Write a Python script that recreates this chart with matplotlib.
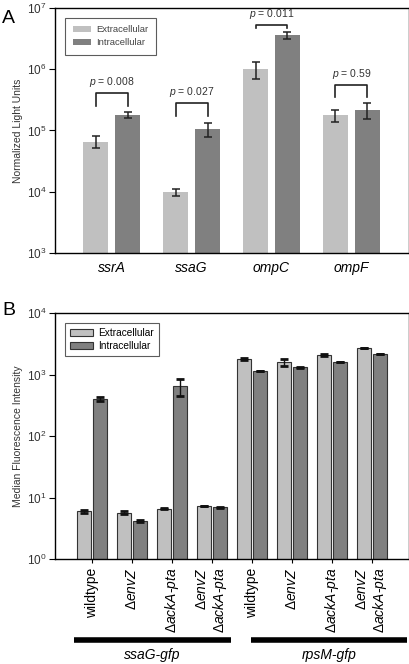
import numpy as np
import matplotlib
matplotlib.use("Agg")
import matplotlib.pyplot as plt
from matplotlib.ticker import NullLocator
import matplotlib.transforms as mtransforms

plt.rcParams['font.family'] = ['Liberation Sans', 'DejaVu Sans']
plt.rcParams['mathtext.fontset'] = 'custom'
plt.rcParams['mathtext.rm'] = 'Liberation Sans'
plt.rcParams['mathtext.it'] = 'Liberation Sans:italic'
plt.rcParams['mathtext.bf'] = 'Liberation Sans:bold'

# Panel A data
genes_a = ['ssrA', 'ssaG', 'ompC', 'ompF']
extra_a = [6.6e4, 9.8e3, 1.01e6, 1.8e5]
extra_a_err = [1.4e4, 1.2e3, 3.2e5, 4.0e4]
intra_a = [1.8e5, 1.05e5, 3.6e6, 2.2e5]
intra_a_err = [2.0e4, 2.7e4, 4.5e5, 6.5e4]
pvals = ['0.008', '0.027', '0.011', '0.59']

# Panel B data
strains_b = ['wildtype', r'$\Delta\mathit{envZ}$', r'$\Delta\mathit{ackA}$-$\mathit{pta}$',
             r'$\Delta\mathit{envZ}$' + '\n' + r'$\Delta\mathit{ackA}$-$\mathit{pta}$'] * 2
extra_b = [6.0, 5.7, 6.6, 7.3, 1770, 1580, 2075, 2670]
extra_b_err = [0.3, 0.4, 0.1, 0.1, 60, 190, 60, 20]
intra_b = [395, 4.15, 650, 6.9, 1140, 1310, 1595, 2150]
intra_b_err = [30, 0.1, 210, 0.1, 15, 15, 15, 15]
reporters = ['ssaG-gfp', 'rpsM-gfp']

# bracket geometry for p-values (log10 of bracket top, leg length in decades)
bracket_top = [5.61, 5.45, 6.73, 5.74]
bracket_leg = [0.21, 0.22, 0.05, 0.19]

c_ext = '#c0c0c0'
c_int = '#808080'

fig = plt.figure(figsize=(4.1, 6.64), dpi=100)

# ---------------- Panel A ----------------
ax = fig.add_axes([0.134, 0.619, 0.8634, 0.369])
x = np.arange(len(genes_a))
w = 0.32
off = 0.2
ax.bar(x - off, extra_a, w, color=c_ext, label='Extracellular')
ax.bar(x + off, intra_a, w, color=c_int, label='Intracellular')
ax.errorbar(x - off, extra_a, yerr=extra_a_err, fmt='none', ecolor='#222222',
            elinewidth=1.1, capsize=3, capthick=1.1)
ax.errorbar(x + off, intra_a, yerr=intra_a_err, fmt='none', ecolor='#222222',
            elinewidth=1.1, capsize=3, capthick=1.1)
ax.set_yscale('log')
ax.set_ylim(1e3, 1e7)
ax.set_xlim(-0.71, 3.72)
ax.yaxis.set_minor_locator(NullLocator())
ax.set_xticks(x)
ax.set_xticklabels(genes_a, fontsize=10, style='italic')
ax.tick_params(axis='x', length=0, pad=6)
ax.tick_params(axis='y', labelsize=8.5, labelcolor='#333333', length=4, width=0.8, pad=2)
ax.set_ylabel('Normalized Light Units', fontsize=7.5, color='#333333', labelpad=3)
for s in ax.spines.values():
    s.set_linewidth(1.0)

for i in range(len(genes_a)):
    top = 10 ** bracket_top[i]
    leg = 10 ** (bracket_top[i] - bracket_leg[i])
    ax.plot([i - off, i - off, i + off, i + off], [leg, top, top, leg],
            color='#222222', lw=1.2)
    ax.text(i, top * 10 ** 0.06, '$p$ = ' + pvals[i], ha='center', va='bottom',
            fontsize=7.5, color='#333333')

leg_a = ax.legend(loc='upper left', bbox_to_anchor=(0.015, 0.98), fontsize=6.8,
                  frameon=True, fancybox=False, edgecolor='#333333',
                  handlelength=2.0, handleheight=0.6, labelspacing=0.45,
                  borderpad=0.8, handletextpad=0.5)
leg_a.get_frame().set_linewidth(0.8)
for t in leg_a.get_texts():
    t.set_color('#444444')

fig.text(0.005, 0.985, 'A', fontsize=14, va='top', ha='left')

# ---------------- Panel B ----------------
bx = fig.add_axes([0.134, 0.1581, 0.8634, 0.3705])
xb = np.arange(len(strains_b))
wb = 0.33
bx.bar(xb - off, extra_b, wb, color=c_ext, edgecolor='#333333', linewidth=0.8,
       label='Extracellular')
bx.bar(xb + off, intra_b, wb, color=c_int, edgecolor='#333333', linewidth=0.8,
       label='Intracellular')
bx.errorbar(xb - off, extra_b, yerr=extra_b_err, fmt='none', ecolor='#111111',
            elinewidth=1.0, capsize=3, capthick=2.0)
bx.errorbar(xb + off, intra_b, yerr=intra_b_err, fmt='none', ecolor='#111111',
            elinewidth=1.0, capsize=3, capthick=2.0)
bx.set_yscale('log')
bx.set_ylim(1, 1e4)
bx.set_xlim(-0.925, 7.925)
bx.yaxis.set_minor_locator(NullLocator())
bx.set_xticks(xb)
bx.set_xticklabels(strains_b, rotation=90, fontsize=10)
for t in bx.get_xticklabels():
    t.set_multialignment('right')
bx.tick_params(axis='x', length=3, width=0.8, pad=3)
bx.tick_params(axis='y', labelsize=8.5, labelcolor='#333333', length=4, width=0.8, pad=2)
bx.set_ylabel('Median Fluorescence Intensity', fontsize=7.5, color='#333333', labelpad=3)
for s in bx.spines.values():
    s.set_linewidth(1.0)

leg_b = bx.legend(loc='upper left', bbox_to_anchor=(0.015, 0.98), fontsize=7.3,
                  frameon=True, fancybox=False, edgecolor='#333333',
                  handlelength=2.2, handleheight=0.6, labelspacing=0.3,
                  borderpad=0.5, handletextpad=0.5)
leg_b.get_frame().set_linewidth(0.8)

trans = mtransforms.blended_transform_factory(bx.transData, bx.transAxes)
spans = [(-0.45, 3.475), (3.975, 7.875)]
for (a, b), name in zip(spans, reporters):
    bx.plot([a, b], [-0.329, -0.329], color='black', lw=4, solid_capstyle='butt',
            transform=trans, clip_on=False)
    bx.text((a + b) / 2, -0.39, name, transform=trans, ha='center', va='center',
            fontsize=10, style='italic')

fig.text(0.005, 0.545, 'B', fontsize=14, va='top', ha='left')

fig.savefig('out.png', dpi=100, facecolor='white')
